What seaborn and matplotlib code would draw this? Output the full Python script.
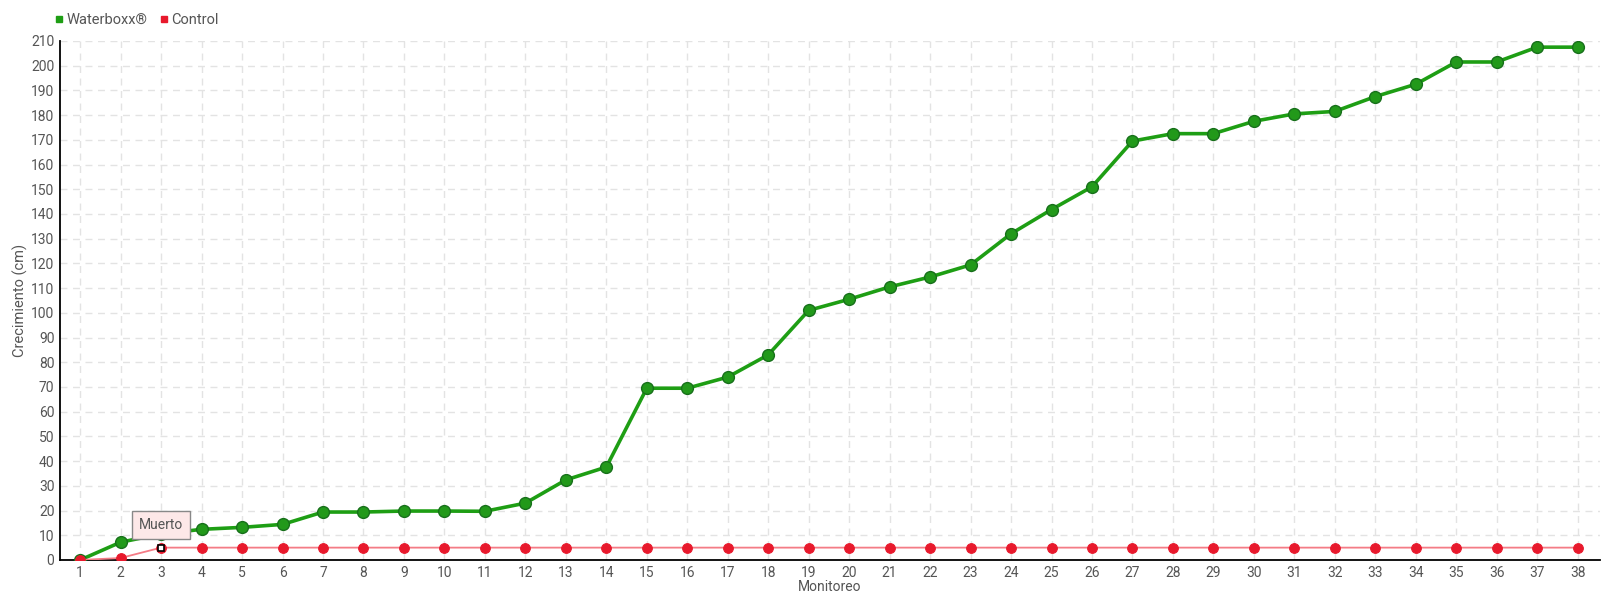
import pandas as pd
import matplotlib
matplotlib.use("Agg")
import matplotlib.pyplot as plt
import seaborn as sns
import numpy as np

# datos
monitoreo = list(range(1, 39))
waterboxx = [0, 7.2, 10.5, 12.4, 13.2, 14.4, 19.4, 19.4, 19.8, 19.8,
             19.7, 23, 32.4, 37.6, 69.5, 69.5, 74, 83, 101, 105.5,
             110.5, 114.5, 119.4, 132, 141.8, 151, 169.5, 172.5, 172.5, 177.5,
             180.5, 181.5, 187.5, 192.5, 201.5, 201.5, 207.5, 207.5]
control = [0, 0.8] + [5] * 36
y_ticks = list(range(0, 211, 10))
nota = "Muerto"
nota_idx = 2

sns.set_theme(style="white")
plt.rcParams['font.family'] = ['Roboto', 'DejaVu Sans']

df = pd.DataFrame({'Monitoreo': monitoreo, 'Waterboxx®': waterboxx, 'Control': control})

fig = plt.figure(figsize=(16.2, 6), dpi=100)
ax = fig.add_axes([0.037, 0.0667, 0.9506, 0.865])

gris = '#555555'
verde = '#1e9e14'
rojo = '#e8192c'

sns.lineplot(data=df, x='Monitoreo', y='Waterboxx®', ax=ax, color=verde, linewidth=2.6,
             marker='o', markersize=8.5, markerfacecolor='#22991a', markeredgecolor='#17701a',
             markeredgewidth=1, zorder=4)
sns.lineplot(data=df, x='Monitoreo', y='Control', ax=ax, color='#f47c86', linewidth=1.3,
             marker='o', markersize=7, markerfacecolor=rojo, markeredgecolor=rojo, zorder=5)

# punto resaltado
ax.plot(monitoreo[nota_idx], control[nota_idx], marker='s', markersize=5,
        markerfacecolor='white', markeredgecolor='black', markeredgewidth=1.2, zorder=8)
ax.annotate(nota, xy=(monitoreo[nota_idx], control[nota_idx]), xytext=(0, 16),
            textcoords='offset points', ha='center', va='center', fontsize=10, color=gris,
            bbox=dict(boxstyle='square,pad=0.5', fc='#fde8e8', ec='#888888', lw=1),
            zorder=7)

ax.set_xlim(0.5, 38.55)
ax.set_ylim(0, 210)
ax.set_xticks(monitoreo)
ax.set_yticks(y_ticks)
ax.grid(True, color='#e3e3e3', linestyle=(0, (5, 4)), linewidth=1)
ax.set_axisbelow(True)
for s in ['top', 'right']:
    ax.spines[s].set_visible(False)
for s in ['left', 'bottom']:
    ax.spines[s].set_color('black')
    ax.spines[s].set_linewidth(1.3)
ax.tick_params(axis='both', direction='inout', length=6, width=1, color='black',
               labelsize=10, labelcolor=gris, pad=1)
ax.set_xlabel('Monitoreo', fontsize=10, color=gris, labelpad=0)
ax.set_ylabel('Crecimiento (cm)', fontsize=10.5, color=gris, labelpad=2)

h = [plt.Line2D([], [], marker='s', color='none', markerfacecolor=verde, markeredgecolor=verde, markersize=5),
     plt.Line2D([], [], marker='s', color='none', markerfacecolor=rojo, markeredgecolor=rojo, markersize=5)]
fig.legend(h, ['Waterboxx®', 'Control'], loc='upper left', bbox_to_anchor=(0.024, 1.0),
           ncol=2, frameon=False, fontsize=10.5, labelcolor=gris, handletextpad=0.0,
           columnspacing=0.6, handlelength=1.0)

plt.savefig('out.png', dpi=100)
